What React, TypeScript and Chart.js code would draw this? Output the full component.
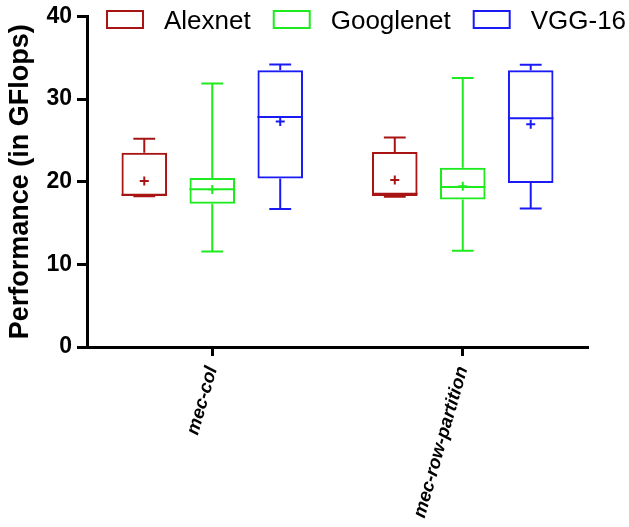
import React, { useEffect, useRef } from 'react';
import { Chart, registerables } from 'chart.js';

Chart.register(...registerables);

const FONT = '"Liberation Sans", Arial, Helvetica, sans-serif';

const categories = ['mec-col', 'mec-row-partition'];
const seriesNames = ['Alexnet', 'Googlenet', 'VGG-16'];
const seriesColors = ['#A81414', '#1EEB1E', '#1A1AF5'];

const alexnetMin = [18.25, 18.17];
const alexnetQ1 = [18.3, 18.28];
const alexnetMedian = [18.4, 18.56];
const alexnetQ3 = [23.5, 23.6];
const alexnetMax = [25.2, 25.35];
const alexnetMean = [20.1, 20.2];

const googlenetMin = [11.55, 11.65];
const googlenetQ1 = [17.35, 17.85];
const googlenetMedian = [19.1, 19.35];
const googlenetQ3 = [20.45, 21.7];
const googlenetMax = [31.9, 32.55];
const googlenetMean = [19.05, 19.45];

const vggMin = [16.7, 16.75];
const vggQ1 = [20.4, 19.85];
const vggMedian = [27.85, 27.7];
const vggQ3 = [33.5, 33.5];
const vggMax = [34.2, 34.15];
const vggMean = [27.3, 26.95];

const yTicks = [0, 10, 20, 30, 40];

const stats = [
  { min: alexnetMin, q1: alexnetQ1, median: alexnetMedian, q3: alexnetQ3, max: alexnetMax, mean: alexnetMean },
  { min: googlenetMin, q1: googlenetQ1, median: googlenetMedian, q3: googlenetQ3, max: googlenetMax, mean: googlenetMean },
  { min: vggMin, q1: vggQ1, median: vggMedian, q3: vggQ3, max: vggMax, mean: vggMean },
];

const boxExtrasPlugin = {
  id: 'boxExtras',
  afterDatasetsDraw(chart: any) {
    const ctx = chart.ctx;
    const ys = chart.scales.y;
    chart.data.datasets.forEach((ds: any, d: number) => {
      const meta = chart.getDatasetMeta(d);
      const st = stats[d];
      ctx.save();
      ctx.strokeStyle = ds.borderColor;
      ctx.lineWidth = 2;
      meta.data.forEach((el: any, i: number) => {
        const { x, width } = el.getProps(['x', 'width'], true);
        const half = width / 2;
        const cap = width * 0.24;
        const yMin = ys.getPixelForValue(st.min[i]);
        const yQ1 = ys.getPixelForValue(st.q1[i]);
        const yMed = ys.getPixelForValue(st.median[i]);
        const yQ3 = ys.getPixelForValue(st.q3[i]);
        const yMax = ys.getPixelForValue(st.max[i]);
        const yMean = ys.getPixelForValue(st.mean[i]);
        ctx.beginPath();
        ctx.moveTo(x, yQ3);
        ctx.lineTo(x, yMax);
        ctx.moveTo(x - cap, yMax);
        ctx.lineTo(x + cap, yMax);
        ctx.moveTo(x, yQ1);
        ctx.lineTo(x, yMin);
        ctx.moveTo(x - cap, yMin);
        ctx.lineTo(x + cap, yMin);
        ctx.moveTo(x - half, yMed);
        ctx.lineTo(x + half, yMed);
        ctx.moveTo(x - 4.5, yMean);
        ctx.lineTo(x + 4.5, yMean);
        ctx.moveTo(x, yMean - 4.5);
        ctx.lineTo(x, yMean + 4.5);
        ctx.stroke();
      });
      ctx.restore();
    });
  },
};

const legendPlugin = {
  id: 'customLegend',
  afterDraw(chart: any) {
    const ctx = chart.ctx;
    const area = chart.chartArea;
    ctx.save();
    ctx.font = `26px ${FONT}`;
    ctx.textBaseline = 'alphabetic';
    ctx.textAlign = 'left';
    let x = area.left + 20;
    const boxTop = 11;
    const boxW = 36;
    const boxH = 17;
    chart.data.datasets.forEach((ds: any) => {
      ctx.strokeStyle = ds.borderColor;
      ctx.lineWidth = 2;
      ctx.strokeRect(x, boxTop, boxW, boxH);
      x += boxW + 21;
      ctx.fillStyle = '#000';
      ctx.fillText(ds.label, x, 28.5);
      x += ctx.measureText(ds.label).width + 23;
    });
    ctx.restore();
  },
};

export default function App() {
  const ref = useRef<HTMLCanvasElement | null>(null);

  useEffect(() => {
    if (!ref.current) return;
    const chart = new Chart(ref.current, {
      type: 'bar',
      data: {
        labels: categories,
        datasets: seriesNames.map((name, d) => ({
          label: name,
          data: categories.map((_, i) => [stats[d].q1[i], stats[d].q3[i]]),
          backgroundColor: 'rgba(255,255,255,0)',
          borderColor: seriesColors[d],
          borderWidth: 2,
          borderSkipped: false,
          categoryPercentage: 0.814,
          barPercentage: 0.67,
        })),
      } as any,
      options: {
        responsive: false,
        animation: false,
        layout: { padding: { top: 13, right: 41, left: 0, bottom: 0 } },
        plugins: {
          legend: { display: false },
          tooltip: { enabled: false },
          title: { display: false },
        },
        scales: {
          x: {
            type: 'category',
            grid: {
              display: true,
              offset: false,
              drawOnChartArea: false,
              drawTicks: true,
              tickLength: 9,
              tickWidth: 3,
              color: '#000',
            },
            border: { display: true, color: '#000', width: 3 },
            ticks: {
              autoSkip: false,
              minRotation: 74,
              maxRotation: 74,
              padding: 8,
              color: '#000',
              font: { family: FONT, size: 18.5, style: 'italic', weight: 'bold' },
            },
            afterFit: (s: any) => {
              s.height = 180;
            },
          },
          y: {
            type: 'linear',
            min: 0,
            max: 40,
            afterBuildTicks: (s: any) => {
              s.ticks = yTicks.map((v) => ({ value: v }));
            },
            grid: {
              display: true,
              drawOnChartArea: false,
              drawTicks: true,
              tickLength: 10,
              tickWidth: 3,
              color: '#000',
            },
            border: { display: true, color: '#000', width: 3 },
            ticks: {
              padding: 5,
              color: '#000',
              font: { family: FONT, size: 23, weight: 'bold', lineHeight: 1 },
            },
            title: {
              display: true,
              text: 'Performance (in GFlops)',
              color: '#000',
              font: { family: FONT, size: 27, weight: 'bold' },
              padding: { top: 4, bottom: 0 },
            },
            afterFit: (s: any) => {
              s.width = 87;
            },
          },
        },
      } as any,
      plugins: [boxExtrasPlugin, legendPlugin],
    });
    return () => chart.destroy();
  }, []);

  return (
    <div style={{ position: 'absolute', left: 0, top: 0, width: 629, height: 527, background: '#fff' }}>
      <canvas ref={ref} width={629} height={527} style={{ display: 'block' }} />
    </div>
  );
}
